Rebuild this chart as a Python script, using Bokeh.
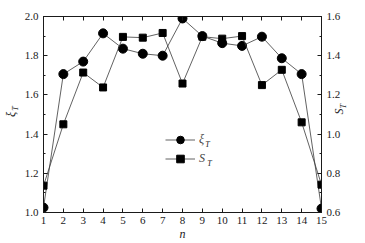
import math
from bokeh.plotting import figure
from bokeh.models import (LinearAxis, Range1d, FixedTicker, Label, Legend,
                          LegendItem, PrintfTickFormatter)
from bokeh.embed import file_html
from bokeh.resources import INLINE

n = list(range(1, 16))
xi_T = [1.025, 1.706, 1.77, 1.914, 1.836, 1.81, 1.80, 1.99, 1.90, 1.864,
        1.85, 1.897, 1.787, 1.706, 1.02]
S_T = [0.737, 1.05, 1.314, 1.238, 1.496, 1.492, 1.516, 1.258, 1.497, 1.487,
       1.50, 1.25, 1.328, 1.06, 0.742]

left_ticks = [1.0, 1.2, 1.4, 1.6, 1.8, 2.0]
left_minor = [1.1, 1.3, 1.5, 1.7, 1.9]
right_ticks = [0.6, 0.8, 1.0, 1.2, 1.4, 1.6]
right_minor = [0.7, 0.9, 1.1, 1.3, 1.5]

FONT = "Liberation Serif"
INK = "#1a1a1a"
NB = "\u00a0"

p = figure(width=365, height=243, x_range=Range1d(1, 15),
           y_range=Range1d(1.0, 2.0), output_backend="svg",
           toolbar_location=None, min_border_left=43, min_border_right=44,
           min_border_top=16, min_border_bottom=31, x_axis_type=None,
           y_axis_type=None)
p.extra_y_ranges = {"right": Range1d(0.6, 1.6)}
p.grid.visible = False
p.outline_line_color = INK
p.outline_line_width = 1


def style(ax, show_labels=True):
    ax.axis_line_color = INK
    ax.major_tick_line_color = INK
    ax.minor_tick_line_color = INK
    ax.major_tick_in = 4
    ax.major_tick_out = 0
    ax.minor_tick_in = 2
    ax.minor_tick_out = 0
    ax.major_label_text_font = FONT
    ax.major_label_text_font_size = "11px"
    ax.major_label_text_color = INK
    ax.major_label_standoff = 5
    ax.axis_label_text_font = FONT
    ax.axis_label_text_font_style = "italic"
    ax.axis_label_text_color = INK
    if not show_labels:
        ax.major_label_text_font_size = "0px"
        ax.major_label_text_color = None
        ax.major_label_standoff = 0


def outer(ax):
    ax.axis_line_color = None
    ax.major_tick_line_color = None
    ax.minor_tick_line_color = None
    ax.major_label_text_color = None
    ax.axis_label_text_font = FONT
    ax.axis_label_text_font_style = "italic"
    ax.axis_label_text_color = INK
    ax.axis_label_text_font_size = "12px"


bottom = LinearAxis(ticker=FixedTicker(ticks=n, minor_ticks=[]), axis_label="n")
style(bottom)
bottom.major_label_standoff = 4
bottom.axis_label_text_font_size = "12px"
bottom.axis_label_standoff = 0
p.add_layout(bottom, "below")

top = LinearAxis(ticker=FixedTicker(ticks=n, minor_ticks=[]))
style(top, show_labels=False)
p.add_layout(top, "above")

# left: main axis carries the subscript, outer axis the symbol
left = LinearAxis(ticker=FixedTicker(ticks=left_ticks, minor_ticks=left_minor),
                  formatter=PrintfTickFormatter(format="%.1f"),
                  axis_label=NB * 6 + "T")
style(left)
left.axis_label_text_font_size = "8px"
left.axis_label_standoff = 2
p.add_layout(left, "left")

left2 = LinearAxis(ticker=FixedTicker(ticks=[], minor_ticks=[]), axis_label="ξ")
outer(left2)
left2.axis_label_standoff = -10
p.add_layout(left2, "left")

right = LinearAxis(y_range_name="right",
                   ticker=FixedTicker(ticks=right_ticks, minor_ticks=right_minor),
                   formatter=PrintfTickFormatter(format="%.1f"),
                   axis_label=NB * 3 + "T")
style(right)
right.axis_label_text_font_size = "8px"
right.axis_label_standoff = 0
right.axis_label_orientation = math.pi / 2
p.add_layout(right, "right")

right2 = LinearAxis(y_range_name="right",
                    ticker=FixedTicker(ticks=[], minor_ticks=[]),
                    axis_label="S")
outer(right2)
right2.axis_label_standoff = -17
right2.axis_label_orientation = math.pi / 2
p.add_layout(right2, "right")

l1 = p.line(n, xi_T, line_color="#3a3a3a", line_width=0.8)
s1 = p.scatter(n, xi_T, marker="circle", size=9, fill_color="black",
               line_color="black")
l2 = p.line(n, S_T, line_color="#3a3a3a", line_width=0.8, y_range_name="right")
s2 = p.scatter(n, S_T, marker="square", size=7, fill_color="black",
               line_color="black", y_range_name="right")

legend = Legend(items=[LegendItem(label="ξ", renderers=[l1, s1]),
                       LegendItem(label="S", renderers=[l2, s2])],
                location=(122, 44), glyph_width=30, glyph_height=19,
                label_height=19, spacing=0, padding=0, margin=0,
                label_standoff=4, label_text_font=FONT,
                label_text_font_style="italic", label_text_font_size="12px",
                border_line_color=None, background_fill_alpha=0)
p.add_layout(legend)


def sub(text, x, y):
    p.add_layout(Label(x=x, y=y, x_units="screen", y_units="screen", text=text,
                       text_font=FONT, text_font_style="italic",
                       text_font_size="8px", text_color=INK,
                       text_align="center", text_baseline="middle"))


sub("T", 164, 68)
sub("T", 166, 49)

open("out.html", "w").write(file_html(p, INLINE))
